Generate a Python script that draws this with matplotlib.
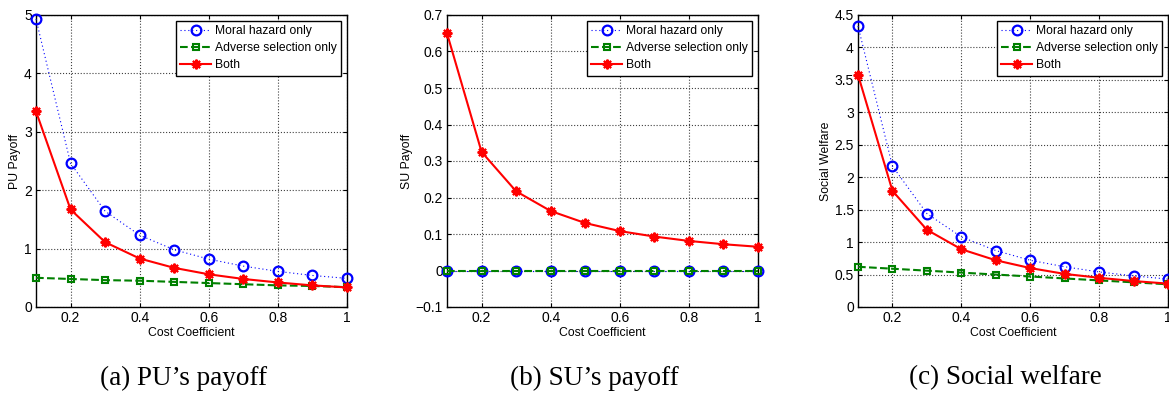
import numpy as np
import matplotlib
matplotlib.use('Agg')
import matplotlib.pyplot as plt

plt.rcParams['font.family'] = ['Liberation Sans', 'DejaVu Sans']

cost = [0.1, 0.2, 0.3, 0.4, 0.5, 0.6, 0.7, 0.8, 0.9, 1.0]

pu_moral = [4.93, 2.46, 1.64, 1.23, 0.98, 0.82, 0.70, 0.61, 0.54, 0.49]
pu_adverse = [0.50, 0.48, 0.46, 0.45, 0.43, 0.41, 0.39, 0.37, 0.36, 0.34]
pu_both = [3.35, 1.67, 1.11, 0.83, 0.67, 0.56, 0.48, 0.42, 0.37, 0.335]

su_moral = [0, 0, 0, 0, 0, 0, 0, 0, 0, 0]
su_adverse = [0, 0, 0, 0, 0, 0, 0, 0, 0, 0]
su_both = [0.65, 0.325, 0.217, 0.163, 0.13, 0.108, 0.093, 0.081, 0.072, 0.065]

sw_moral = [4.33, 2.17, 1.44, 1.08, 0.87, 0.72, 0.62, 0.54, 0.48, 0.43]
sw_adverse = [0.62, 0.59, 0.56, 0.53, 0.50, 0.47, 0.44, 0.41, 0.38, 0.35]
sw_both = [3.58, 1.79, 1.19, 0.89, 0.72, 0.60, 0.51, 0.45, 0.40, 0.36]

labels = ['Moral hazard only', 'Adverse selection only', 'Both']
ylabels = ['PU Payoff', 'SU Payoff', 'Social Welfare']
captions = ['(a) PU\u2019s payoff', '(b) SU\u2019s payoff', '(c) Social welfare']
yticks = [np.arange(0, 5.01, 1), np.arange(-0.1, 0.701, 0.1), np.arange(0, 4.51, 0.5)]
ylims = [(0, 5), (-0.1, 0.7), (0, 4.5)]
xticks = [0.2, 0.4, 0.6, 0.8, 1.0]

W, H = 1169, 394
fig = plt.figure(figsize=(W / 100, H / 100), dpi=100)

# axes boxes in pixels: left, right (top 15, bottom 307)
boxes = [(36, 347), (447, 758), (858, 1168)]
caption_x = [184, 594, 1005]
data = [(pu_moral, pu_adverse, pu_both), (su_moral, su_adverse, su_both),
        (sw_moral, sw_adverse, sw_both)]

green = (0, 0.5, 0)
for i in range(3):
    l, r = boxes[i]
    ax = fig.add_axes([l / W, (H - 307) / H, (r - l) / W, (307 - 15) / H])
    m, a, b = data[i]
    ax.plot(cost, m, color='blue', lw=0.8, ls=(0, (1, 2.5)), marker='o', ms=7,
            mfc='none', mec='blue', mew=1.6, clip_on=False, label=labels[0],
            zorder=3)
    ax.plot(cost, a, '--', color=green, lw=1.5, marker='s', ms=5, mfc='none',
            mec=green, mew=1.5, clip_on=False, label=labels[1], zorder=4)
    ax.plot(cost, b, '-', color='red', lw=1.5, marker=(8, 2, 0), ms=7,
            mec='red', mew=1.5, clip_on=False, label=labels[2], zorder=5)
    ax.set_xlim(0.1, 1)
    ax.set_ylim(*ylims[i])
    ax.set_xticks(xticks)
    ax.set_xticklabels(['0.2', '0.4', '0.6', '0.8', '1'])
    ax.set_yticks(yticks[i])
    ax.set_yticklabels([('%g' % round(v, 2)).replace('-', '\u2212') for v in yticks[i]])
    ax.grid(True, linestyle=':', color='0.25', lw=0.8)
    ax.tick_params(direction='in', top=True, right=True, labelsize=10,
                   length=3, pad=3)
    for s in ax.spines.values():
        s.set_linewidth(1)
    ax.set_xlabel('Cost Coefficient', fontsize=8.8, labelpad=1)
    ax.set_ylabel(ylabels[i], fontsize=8.8, labelpad=2)
    leg = ax.legend(loc='upper right', fontsize=8.7, fancybox=False,
                    framealpha=1, edgecolor='black', borderpad=0.35,
                    labelspacing=0.42, handlelength=2.6, handletextpad=0.3,
                    borderaxespad=0.5)
    leg.get_frame().set_linewidth(1)
    fig.text(caption_x[i] / W, (H - 378) / H, captions[i], ha='center',
             va='center', fontsize=19.5, family='Liberation Serif')

fig.savefig('out.png', dpi=100)
